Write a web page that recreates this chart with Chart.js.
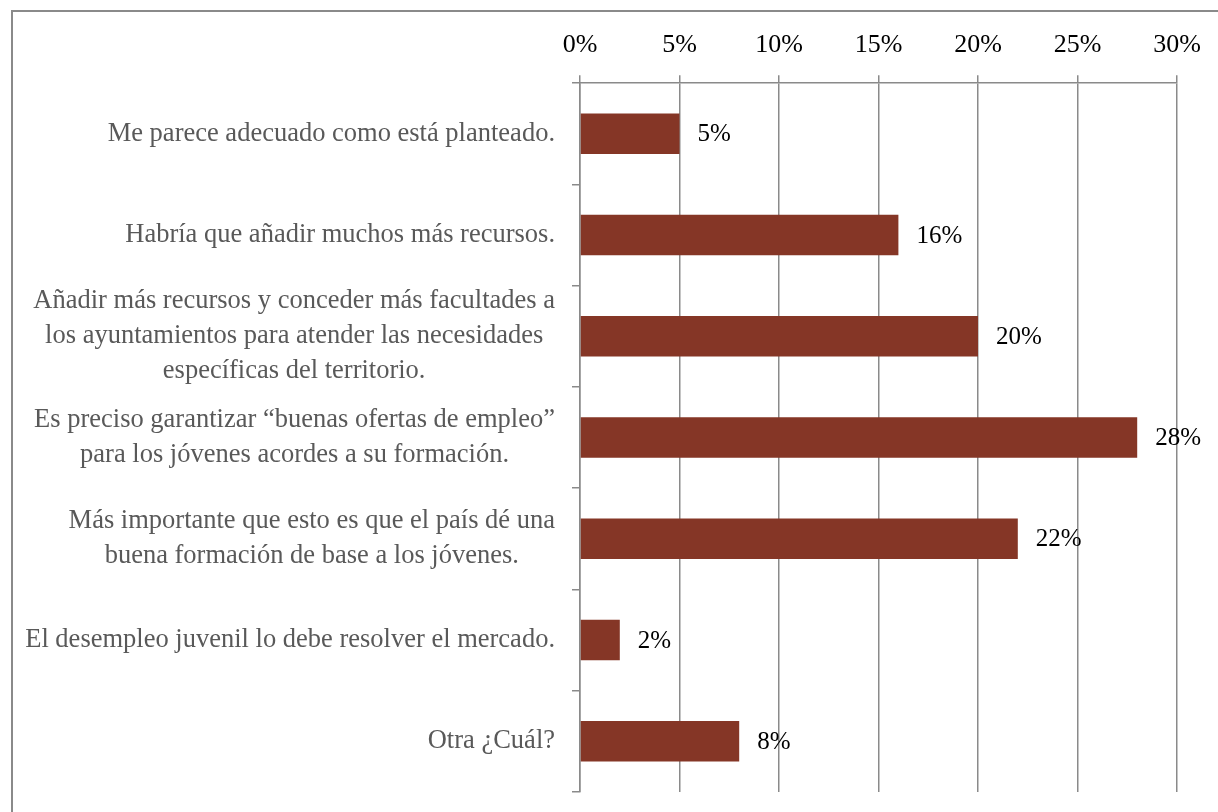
<!DOCTYPE html>
<html>
<head>
<meta charset="utf-8">
<script src="https://cdn.jsdelivr.net/npm/chart.js@4/dist/chart.umd.min.js"></script>
<style>
  html, body { margin: 0; padding: 0; background: #fff; }
  #wrap { position: relative; width: 1218px; height: 812px; }
  #frame {
    position: absolute; left: 11px; top: 10px; right: 0; bottom: 0;
    border-top: 2px solid #8a8a8a; border-left: 2px solid #8a8a8a;
    pointer-events: none;
  }
</style>
</head>
<body>
<div id="wrap">
  <canvas id="myChart"></canvas>
  <div id="frame"></div>
</div>
<script>
'use strict'

// categorias (una entrada por línea de texto)
const categorias = [
  ['Me parece adecuado como está planteado.'],
  ['Habría que añadir muchos más recursos.'],
  ['Añadir más recursos y conceder más facultades a', 'los ayuntamientos para atender las necesidades', 'específicas del territorio.'],
  ['Es preciso garantizar “buenas ofertas de empleo”', 'para los jóvenes acordes a su formación.'],
  ['Más importante que esto es que el país dé una', 'buena formación de base a los jóvenes.'],
  ['El desempleo juvenil lo debe resolver el mercado.'],
  ['Otra ¿Cuál?']
]
const valores = [5, 16, 20, 28, 22, 2, 8]
const ticksX = [0, 5, 10, 15, 20, 25, 30]

const fuente = '"Liberation Serif", "Times New Roman", serif'
const gris = '#8a8a8a'

const etiquetas = {
  id: 'etiquetas',
  afterDatasetsDraw(chart) {
    const ctx = chart.ctx
    const meta = chart.getDatasetMeta(0)
    const yScale = chart.scales.y
    ctx.save()
    ctx.textBaseline = 'middle'

    // valores al final de cada barra
    ctx.font = '25px ' + fuente
    ctx.fillStyle = '#000'
    ctx.textAlign = 'left'
    meta.data.forEach((bar, i) => {
      ctx.fillText(valores[i] + '%', bar.x + 18, bar.y + 1)
    })

    // textos de categoria, bloque alineado a la derecha, lineas centradas
    ctx.font = '26.5px ' + fuente
    ctx.fillStyle = '#595959'
    ctx.textAlign = 'center'
    const derecha = chart.chartArea.left - 25
    const alto = 35
    categorias.forEach((lineas, i) => {
      const yc = yScale.getPixelForValue(i)
      const ancho = Math.max(...lineas.map(l => ctx.measureText(l).width))
      const cx = derecha - ancho / 2
      lineas.forEach((l, k) => {
        ctx.fillText(l, cx, yc + (k - (lineas.length - 1) / 2) * alto)
      })
    })
    ctx.restore()
  }
}

const ctx = document.getElementById('myChart')

new Chart(ctx, {
  type: 'bar',
  data: {
    labels: categorias.map(l => l.join(' ')),
    datasets: [{
      data: valores,
      backgroundColor: '#853626',
      categoryPercentage: 1,
      barPercentage: 0.4
    }]
  },
  options: {
    indexAxis: 'y',
    responsive: true,
    maintainAspectRatio: false,
    animation: false,
    layout: { padding: { left: 572, right: 41, bottom: 20, top: 16 } },
    plugins: { legend: { display: false }, tooltip: { enabled: false } },
    scales: {
      x: {
        position: 'top',
        min: 0,
        max: 30,
        afterBuildTicks: (scale) => { scale.ticks = ticksX.map(v => ({ value: v })) },
        ticks: {
          callback: (v) => v + '%',
          color: '#000',
          font: { family: fuente, size: 26 },
          padding: 14
        },
        grid: { color: gris, lineWidth: 1.5, tickLength: 8 },
        border: { display: true, color: gris, width: 1.5 }
      },
      y: {
        grid: { offset: true, drawOnChartArea: false, color: gris, lineWidth: 1.5, tickLength: 8 },
        border: { display: true, color: gris, width: 1.5 },
        ticks: { display: false }
      }
    }
  },
  plugins: [etiquetas]
})
</script>
</body>
</html>
